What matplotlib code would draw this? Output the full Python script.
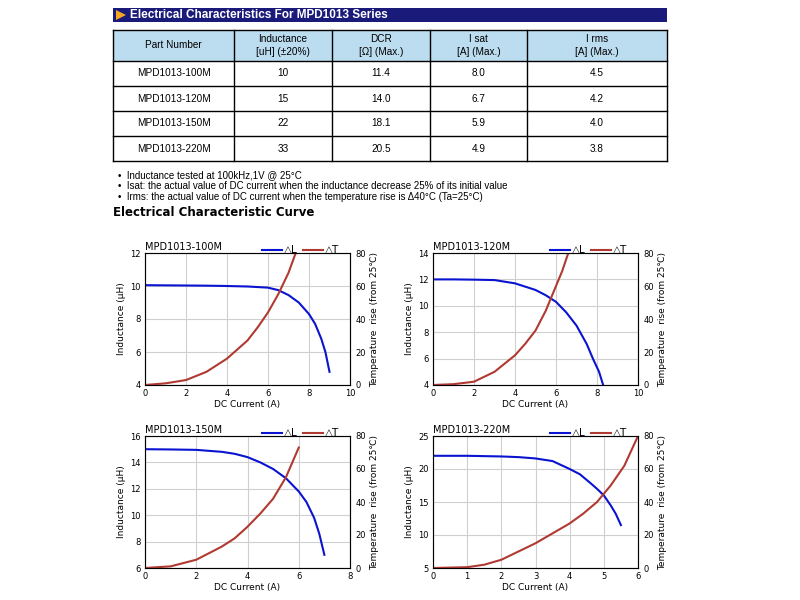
import numpy as n
import matplotlib.pyplot as plt
from matplotlib.patches import Rectangle, Polygon

W, H = 800, 600

cols = ["Part Number", "Inductance\n[uH] (\u00b120%)", "DCR\n[\u03a9] (Max.)", "I sat\n[A] (Max.)", "I rms\n[A] (Max.)"]
parts = ["MPD1013-100M", "MPD1013-120M", "MPD1013-150M", "MPD1013-220M"]
induct = ["10", "15", "22", "33"]
dcr = ["11.4", "14.0", "18.1", "20.5"]
isat = ["8.0", "6.7", "5.9", "4.9"]
irms = ["4.5", "4.2", "4.0", "3.8"]
notes = ["Inductance tested at 100kHz,1V @ 25\u00b0C",
         "Isat: the actual value of DC current when the inductance decrease 25% of its initial value",
         "Irms: the actual value of DC current when the temperature rise is \u039440\u00b0C (Ta=25\u00b0C)"]

# curves: (title, xmax, xstep, ylim L, L x, L y, T x, T y)
curves = [
    ("MPD1013-100M", 10, 2, (4, 12),
     [0, 1, 2, 3, 4, 5, 6, 6.5, 7, 7.5, 8, 8.3, 8.6, 8.8, 9],
     [10.05, 10.04, 10.03, 10.02, 10.0, 9.97, 9.9, 9.75, 9.45, 9.0, 8.3, 7.7, 6.8, 6.0, 4.8],
     [0, 1, 2, 3, 4, 5, 5.5, 6, 6.5, 7, 7.35],
     [0, 1, 3, 8, 16, 27, 35, 44, 55, 68, 80]),
    ("MPD1013-120M", 10, 2, (4, 14),
     [0, 1, 2, 3, 4, 5, 5.5, 6, 6.5, 7, 7.5, 7.8, 8.1, 8.3],
     [12.0, 12.0, 11.98, 11.95, 11.7, 11.2, 10.8, 10.3, 9.5, 8.5, 7.1, 6.0, 5.0, 4.0],
     [0, 1, 2, 3, 4, 4.5, 5, 5.5, 6, 6.3, 6.6],
     [0, 0.5, 2, 8, 18, 25, 33, 45, 60, 69, 80]),
    ("MPD1013-150M", 8, 2, (6, 16),
     [0, 1, 2, 3, 3.5, 4, 4.5, 5, 5.5, 6, 6.3, 6.6, 6.8, 7],
     [15.0, 14.98, 14.95, 14.8, 14.65, 14.4, 14.0, 13.5, 12.8, 11.8, 11.0, 9.8, 8.6, 7.0],
     [0, 1, 2, 3, 3.5, 4, 4.5, 5, 5.5, 6],
     [0, 1, 5, 13, 18, 25, 33, 42, 55, 73]),
    ("MPD1013-220M", 6, 1, (5, 25),
     [0, 1, 2, 2.5, 3, 3.5, 4, 4.3, 4.6, 4.8, 5, 5.2, 5.35, 5.5],
     [22.0, 22.0, 21.9, 21.8, 21.6, 21.2, 20.0, 19.2, 17.9, 17.0, 16.0, 14.5, 13.2, 11.5],
     [0, 1, 1.5, 2, 2.5, 3, 3.5, 4, 4.4, 4.8, 5.2, 5.6, 6],
     [0, 0.5, 2, 5, 10, 15, 21, 27, 33, 40, 50, 62, 80]),
]

fig = plt.figure(figsize=(8, 6), dpi=100)
bg = fig.add_axes([0, 0, 1, 1])
bg.set_xlim(0, W); bg.set_ylim(H, 0); bg.axis("off")

# header bar
bg.add_patch(Rectangle((113, 8), 554, 14, fc="#1a1a7a", ec="none"))
bg.add_patch(Polygon([[116, 10], [116, 20], [126, 15]], fc="#f5a623", ec="none"))
bg.text(130, 15.5, "Electrical Characteristics For MPD1013 Series", color="white",
        fontsize=8.5, fontweight="bold", va="center", family="Liberation Sans")

# table
xs = [113, 234, 332, 430, 527, 667]
ys = [30, 61, 86, 111, 136, 161]
bg.add_patch(Rectangle((113, 30), 554, 31, fc="#bcdcf0", ec="none"))
for x in xs:
    bg.plot([x, x], [ys[0], ys[-1]], color="black", lw=1)
for y in ys:
    bg.plot([xs[0], xs[-1]], [y, y], color="black", lw=1)
rows = [cols] + [list(r) for r in zip(parts, induct, dcr, isat, irms)]
for i, row in enumerate(rows):
    for j, t in enumerate(row):
        bg.text((xs[j] + xs[j + 1]) / 2, (ys[i] + ys[i + 1]) / 2, t, ha="center", va="center",
                fontsize=7.2, family="Liberation Sans", linespacing=1.3)

for k, t in enumerate(notes):
    bg.text(118, 175 + 11 * k, "\u2022  " + t, fontsize=7, va="center", family="Liberation Sans")
bg.text(113, 213, "Electrical Characteristic Curve", fontsize=8.5, fontweight="bold", va="center")

boxes = [(145, 253), (433, 253), (145, 436), (433, 436)]
aw, ah = 205, 132
for (x0, y0), (title, xmax, xstep, ylim, lx, ly, tx, ty) in zip(boxes, curves):
    ax = fig.add_axes([x0 / W, 1 - (y0 + ah) / H, aw / W, ah / H])
    ax.plot(lx, ly, color="#0a14d0", lw=1.5)
    ax.set_xlim(0, xmax); ax.set_ylim(*ylim)
    ax.set_xticks(n.arange(0, xmax + 1, xstep))
    ax.set_yticks(n.linspace(ylim[0], ylim[1], 5 if ylim[1] - ylim[0] != 10 else 6))
    ax.grid(color="#d0d0d0", lw=0.8)
    ax.tick_params(labelsize=6, length=0, pad=3)
    ax.set_xlabel("DC Current (A)", fontsize=6.5, labelpad=1)
    ax.set_ylabel("Inductance (\u03bcH)", fontsize=6.5, labelpad=3)
    for s in ax.spines.values():
        s.set_color("#888888")
    ax2 = ax.twinx()
    ax2.plot(tx, ty, color="#b03a32", lw=1.5)
    ax2.set_ylim(0, 80); ax2.set_yticks(range(0, 81, 20))
    ax2.tick_params(labelsize=6, length=0, pad=4)
    ax2.set_ylabel("Temperature  rise (from 25\u2103)", fontsize=6.5, labelpad=3,
                   family=["DejaVu Sans", "Noto Sans CJK SC"])
    ax.text(0.0, 1.005, title, transform=ax.transAxes, fontsize=7, va="bottom")
    ax.plot([0.57, 0.67], [1.02, 1.02], transform=ax.transAxes, color="#0a14d0", lw=1.5, clip_on=False)
    ax.text(0.68, 1.02, "\u25b3L", transform=ax.transAxes, fontsize=7.5, va="center")
    ax.plot([0.77, 0.87], [1.02, 1.02], transform=ax.transAxes, color="#b03a32", lw=1.5, clip_on=False)
    ax.text(0.88, 1.02, "\u25b3T", transform=ax.transAxes, fontsize=7.5, va="center")

fig.savefig("out.png", dpi=100)
